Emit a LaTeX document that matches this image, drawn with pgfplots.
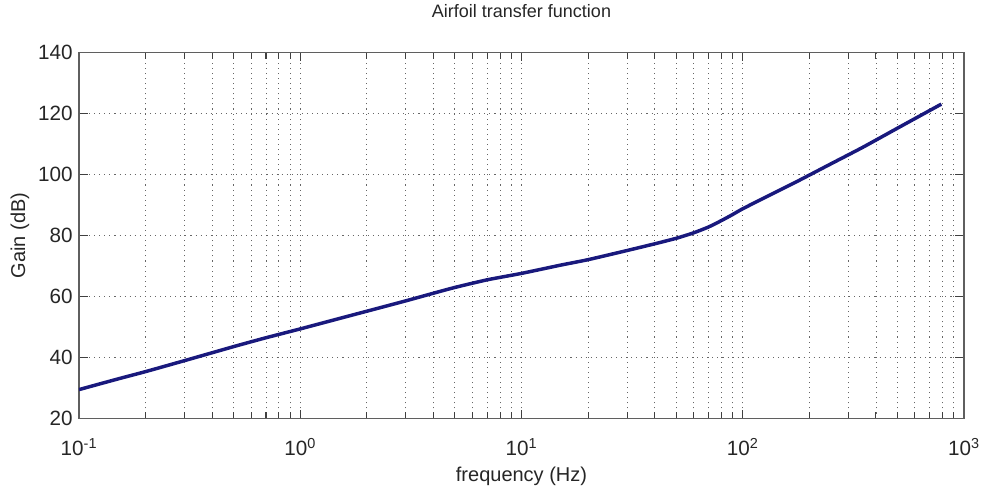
\documentclass[border=0pt]{standalone}
\usepackage{pgfplots}
\pgfplotsset{compat=1.18}
\usepackage{fontspec}
\setmainfont{Liberation Sans}
\definecolor{curve}{RGB}{25,25,125}
\definecolor{axgray}{RGB}{95,95,95}
\begin{document}
\begin{tikzpicture}
\begin{axis}[
  scale only axis,
  width=663.75pt, height=274.5pt,
  xmode=log,
  xmin=0.1, xmax=1000,
  ymin=20, ymax=140,
  ytick={20,40,60,80,100,120,140},
  xtick={0.1,1,10,100,1000},
  xticklabels={10\textsuperscript{-1},10\textsuperscript{0},10\textsuperscript{1},10\textsuperscript{2},10\textsuperscript{3}},
  minor xtick={0.2,0.3,0.4,0.5,0.6,0.7,0.8,0.9,2,3,4,5,6,7,8,9,20,30,40,50,60,70,80,90,200,300,400,500,600,700,800,900},
  /pgf/number format/assume math mode=true,
  grid=both,
  major grid style={draw=black!60, line width=0.65pt, dash pattern=on 0.8pt off 3pt},
  minor grid style={draw=black!60, line width=0.65pt, dash pattern=on 0.8pt off 3pt},
  axis line style={draw=axgray, line width=1pt},
  tick style={draw=black!75, line width=0.8pt},
  major tick length=6.5pt,
  minor tick length=5pt,
  tick align=inside,
  xtick pos=both, ytick pos=both,
  ticklabel style={font=\fontsize{15.5}{18}\selectfont, text=black!85},
  xticklabel style={anchor=base, yshift=-28pt, inner sep=0pt},
  yticklabel style={anchor=east, inner sep=0pt, xshift=-4.5pt},
  title={Airfoil transfer function},
  title style={at={(axis description cs:0.5,1.074)}, anchor=base, font=\fontsize{13.5}{16}\selectfont, text=black!85},
  xlabel={frequency (Hz)},
  xlabel style={at={(axis description cs:0.5,-0.172)}, anchor=base, font=\fontsize{15}{18}\selectfont, text=black!85},
  ylabel={Gain (dB)},
  ylabel style={at={(axis description cs:-0.0667,0.5)}, anchor=center, font=\fontsize{15}{18}\selectfont, text=black!85},
]
\addplot[curve, line width=2.6pt, smooth, tension=0.3] coordinates {
(0.1,29.5) (0.15,33.0) (0.2,35.4) (0.3,39.0) (0.5,43.6) (0.7,46.5) (1,49.4)
(1.5,52.8) (2,55.2) (3,58.6) (4,61.1) (5,63.0) (7,65.5) (10,67.6)
(15,70.3) (20,72.1) (30,75.1) (40,77.3) (50,79.1) (60,80.9) (70,82.8)
(80,84.9) (90,86.9) (100,88.8) (137,93.8) (181,98.2) (250,103.5)
(350,109.0) (500,115.2) (790,123.1)
};
\coordinate (bl) at (rel axis cs:0,0);
\coordinate (tr) at (rel axis cs:1,1);
\end{axis}
\path ([xshift=-59.25pt,yshift=-58.5pt]bl) rectangle ([xshift=12.75pt,yshift=36.75pt]tr);
\end{tikzpicture}
\end{document}
